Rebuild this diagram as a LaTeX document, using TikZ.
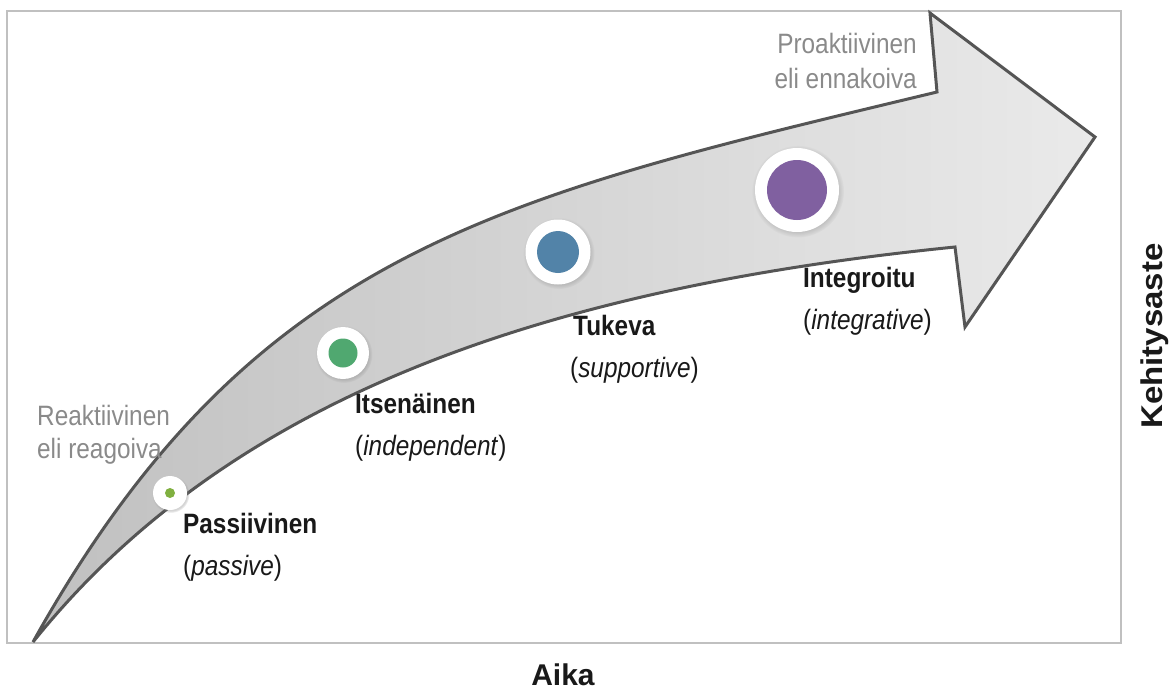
\documentclass[tikz,border=0pt]{standalone}
\usepackage{fontspec}
\setmainfont{Liberation Sans}
\newfontfamily\narrowfont[FakeStretch=0.87]{Liberation Sans}
\newfontfamily\widefont[FakeStretch=1.1]{Liberation Sans}
\usetikzlibrary{shadows}
\definecolor{framecol}{RGB}{192,192,192}
\definecolor{arrowline}{RGB}{85,85,85}
\definecolor{arrowdark}{RGB}{192,192,192}
\definecolor{arrowlight}{RGB}{234,234,234}
\definecolor{dotA}{RGB}{128,176,64}
\definecolor{dotB}{RGB}{80,168,112}
\definecolor{dotC}{RGB}{82,131,168}
\definecolor{dotD}{RGB}{128,96,160}
\definecolor{graytext}{RGB}{138,138,138}
\begin{document}
\begin{tikzpicture}[x=1pt,y=-1pt,
  ring/.style={circle, fill=white, inner sep=0pt,
    circular drop shadow={shadow xshift=0.8pt, shadow yshift=-1.2pt, opacity=0.35}},
  dot/.style={circle, inner sep=0pt},
  lbl/.style={inner sep=0pt, font=\narrowfont\fontsize{28}{34}\selectfont\bfseries, text=black!90, anchor=base west},
  sub/.style={inner sep=0pt, font=\narrowfont\fontsize{28}{34}\selectfont, text=black!90, anchor=base west},
  side/.style={inner sep=0pt, font=\narrowfont\fontsize{28}{34}\selectfont, text=graytext},
  axislbl/.style={inner sep=0pt, text depth=0pt, font=\fontsize{30}{36}\selectfont\bfseries, text=black!90}]
\useasboundingbox (0,0) rectangle (1171,689);
\draw[framecol, line width=2pt] (7,11) rectangle (1121,643);
% curved arrow
\coordinate (tail) at (33,642);
\coordinate (uend) at (937,92);
\coordinate (ubarb) at (930,13);
\coordinate (tip) at (1095,137);
\coordinate (lbarb) at (965,327);
\coordinate (lend) at (955,247);
\shadedraw[left color=arrowdark, right color=arrowlight, draw=arrowline, line width=3pt, line join=miter]
 (tail) .. controls (252,249) and (500,197) .. (uend)
 -- (ubarb) -- (tip) -- (lbarb) -- (lend)
 .. controls (537,289) and (227,400) .. (tail)
 -- cycle;
% stage markers
\node[ring, minimum size=34pt] (r1) at (170,493) {};
\node[dot, fill=dotA, minimum size=10pt] (d1) at (r1) {};
\node[ring, minimum size=52pt] (r2) at (343,353) {};
\node[dot, fill=dotB, minimum size=29pt] (d2) at (r2) {};
\node[ring, minimum size=65pt] (r3) at (558,252) {};
\node[dot, fill=dotC, minimum size=42pt] (d3) at (r3) {};
\node[ring, minimum size=84pt] (r4) at (797,190) {};
\node[dot, fill=dotD, minimum size=60pt] (d4) at (r4) {};
% labels
\node[lbl] (t1) at (183,533) {Passiivinen};
\node[sub] (s1) at (183,575) {(\textit{passive})};
\node[lbl] (t2) at (355,413) {Itsenäinen};
\node[sub] (s2) at (355,455) {(\textit{independent})};
\node[lbl] (t3) at (573,335) {Tukeva};
\node[sub] (s3) at (570,377) {(\textit{supportive})};
\node[lbl] (t4) at (803,287) {Integroitu};
\node[sub] (s4) at (803,329) {(\textit{integrative})};
% side notes
\node[side, anchor=base west] (re1) at (37,425) {Reaktiivinen};
\node[side, anchor=base west] (re2) at (37,458) {eli reagoiva};
\node[side, anchor=base east] (pr1) at (917,53) {Proaktiivinen};
\node[side, anchor=base east] (pr2) at (917,88) {eli ennakoiva};
% axes
\node[axislbl, anchor=base] (xa) at (563,685) {Aika};
\node[axislbl, anchor=base, rotate=90, font=\widefont\fontsize{30}{36}\selectfont\bfseries] (ya) at (1162,336) {Kehitysaste};
\end{tikzpicture}
\end{document}
